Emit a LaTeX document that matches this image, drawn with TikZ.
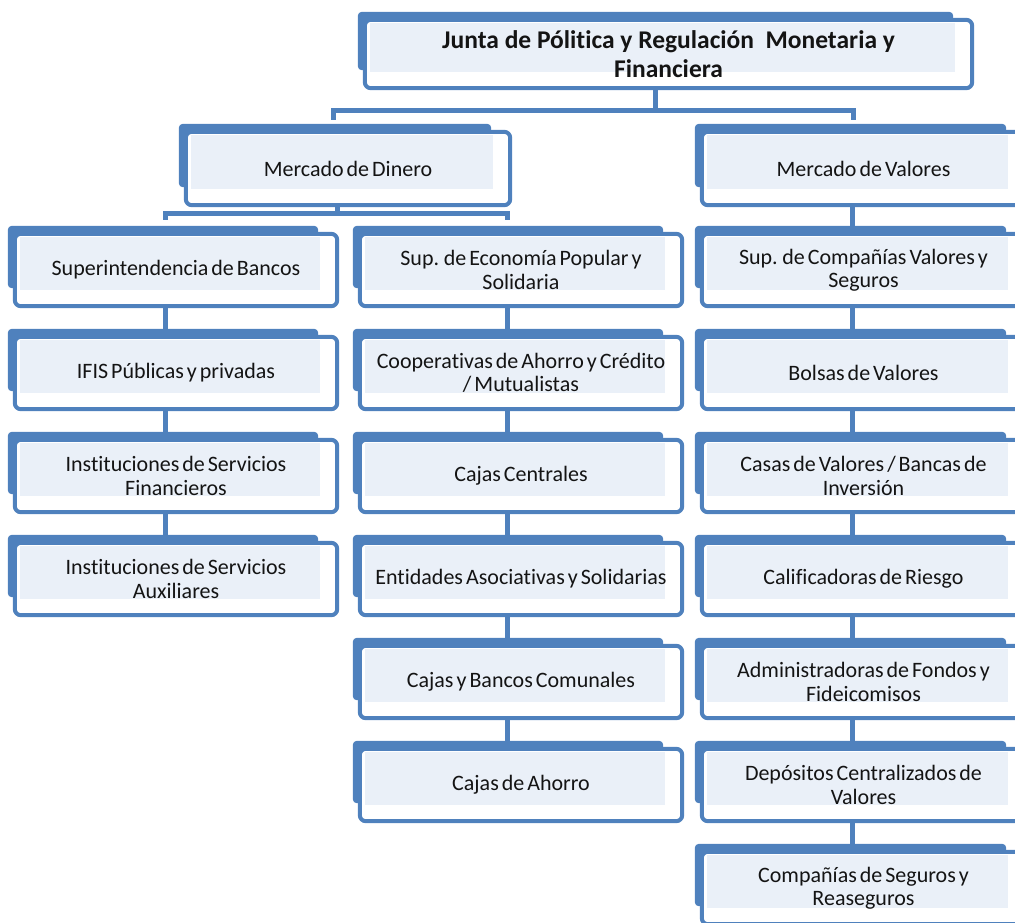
\documentclass[tikz,border=0pt]{standalone}
\usepackage{fontspec}
\setmainfont{Carlito}[Ligatures=NoCommon, WordSpace=0.6]
\newfontfamily\obtitlefont{Carlito}[Ligatures=NoCommon]
\usetikzlibrary{backgrounds}
\definecolor{obblue}{HTML}{4F81BD}
\definecolor{oblight}{HTML}{EAF0F8}
\definecolor{obtext}{HTML}{141414}
\tikzset{
  ob/.style={draw=none, inner sep=0pt, align=center, text=obtext,
    minimum width=322pt, minimum height=72pt,
    font=\fontsize{22}{23.5}\selectfont},
  obtitle/.style={ob, minimum width=607pt, minimum height=68pt,
    font=\obtitlefont\bfseries\fontsize{25.5}{29}\selectfont},
  conn/.style={draw=obblue, line width=5pt},
}
\begin{document}
\begin{tikzpicture}[x=1pt, y=-1pt]
\useasboundingbox (0,0) rectangle (1015,922);
\clip (0,0) rectangle (1015,922);
% nodes
\node[obtitle] (junta) at (668.5,54) {Junta de Pólitica y Regulación\ \ Monetaria y\\Financiera};
\node[ob, minimum width=324pt, minimum height=73pt] (mdin) at (348,168.5) {Mercado de Dinero};
\node[ob, minimum width=323pt, minimum height=73pt] (mval) at (863.5,168.5) {Mercado de Valores};
% left column
\node[ob] (sb)   at (176,270) {Superintendencia de Bancos};
\node[ob] (ifis) at (176,373) {IFIS Públicas y privadas};
\node[ob] (isf)  at (176,476) {Instituciones de Servicios\\Financieros};
\node[ob] (isa)  at (176,579) {Instituciones de Servicios\\Auxiliares};
% middle column
\node[ob] (sep)  at (521,270) {Sup. de Economía Popular y\\Solidaria};
\node[ob] (coop) at (521,373) {Cooperativas de Ahorro y Crédito\\/ Mutualistas};
\node[ob] (cc)   at (521,476) {Cajas Centrales};
\node[ob] (eas)  at (521,579) {Entidades Asociativas y Solidarias};
\node[ob] (cbc)  at (521,682) {Cajas y Bancos Comunales};
\node[ob] (cah)  at (521,785) {Cajas de Ahorro};
% right column
\node[ob, minimum width=323pt] (scv)  at (863.5,270) {Sup. de Compañías Valores y\\Seguros};
\node[ob, minimum width=323pt] (bv)   at (863.5,373) {Bolsas de Valores};
\node[ob, minimum width=323pt] (cv)   at (863.5,476) {Casas de Valores / Bancas de\\Inversión};
\node[ob, minimum width=323pt] (cr)   at (863.5,579) {Calificadoras de Riesgo};
\node[ob, minimum width=323pt] (aff)  at (863.5,682) {Administradoras de Fondos y\\Fideicomisos};
\node[ob, minimum width=323pt] (dcv)  at (863.5,785) {Depósitos Centralizados de\\Valores};
\node[ob, minimum width=323pt] (csr)  at (863.5,888) {Compañías de Seguros y\\Reaseguros};
\coordinate (jb) at (655,110);
\coordinate (db) at (337,213);
\begin{scope}[on background layer]
  % connectors
  \draw[conn] ([xshift=-13.5pt]junta.south) -- (jb);
  \draw[conn] ([xshift=-15pt,yshift=12pt]mdin.north) |- (jb) -| ([xshift=-10.5pt,yshift=12pt]mval.north);
  \draw[conn] ([xshift=-11pt]mdin.south) -- (db);
  \draw[conn] ([xshift=-11pt,yshift=14pt]sb.north) |- (db) -| ([xshift=-14pt,yshift=14pt]sep.north);
  \draw[conn] ([xshift=-11.5pt]mval.south) -- ([xshift=-11.5pt]scv.north);
  \draw[conn] ([xshift=-11pt]sb.south) -- ([xshift=-11pt]ifis.north);
  \draw[conn] ([xshift=-11pt]ifis.south) -- ([xshift=-11pt]isf.north);
  \draw[conn] ([xshift=-11pt]isf.south) -- ([xshift=-11pt]isa.north);
  \draw[conn] ([xshift=-14pt]sep.south) -- ([xshift=-14pt]coop.north);
  \draw[conn] ([xshift=-14pt]coop.south) -- ([xshift=-14pt]cc.north);
  \draw[conn] ([xshift=-14pt]cc.south) -- ([xshift=-14pt]eas.north);
  \draw[conn] ([xshift=-14pt]eas.south) -- ([xshift=-14pt]cbc.north);
  \draw[conn] ([xshift=-14pt]cbc.south) -- ([xshift=-14pt]cah.north);
  \draw[conn] ([xshift=-11.5pt]scv.south) -- ([xshift=-11.5pt]bv.north);
  \draw[conn] ([xshift=-11.5pt]bv.south) -- ([xshift=-11.5pt]cv.north);
  \draw[conn] ([xshift=-11.5pt]cv.south) -- ([xshift=-11.5pt]cr.north);
  \draw[conn] ([xshift=-11.5pt]cr.south) -- ([xshift=-11.5pt]aff.north);
  \draw[conn] ([xshift=-11.5pt]aff.south) -- ([xshift=-11.5pt]dcv.north);
  \draw[conn] ([xshift=-11.5pt]dcv.south) -- ([xshift=-11.5pt]csr.north);
  % box decorations
  \foreach \n in {junta,mdin,mval,sb,ifis,isf,isa,sep,coop,cc,eas,cbc,cah,scv,bv,cv,cr,aff,dcv,csr}{
    \fill[obblue, rounded corners=4pt]
      ([xshift=-7pt,yshift=8pt]\n.north west) rectangle ([xshift=-19pt,yshift=18pt]\n.south east);
    \draw[obblue, fill=white, line width=4pt, rounded corners=6pt]
      (\n.north west) rectangle (\n.south east);
    \fill[oblight]
      ([xshift=5pt,yshift=-3pt]\n.north west) rectangle ([xshift=-17pt,yshift=16pt]\n.south east);
  }
\end{scope}
\end{tikzpicture}
\end{document}
